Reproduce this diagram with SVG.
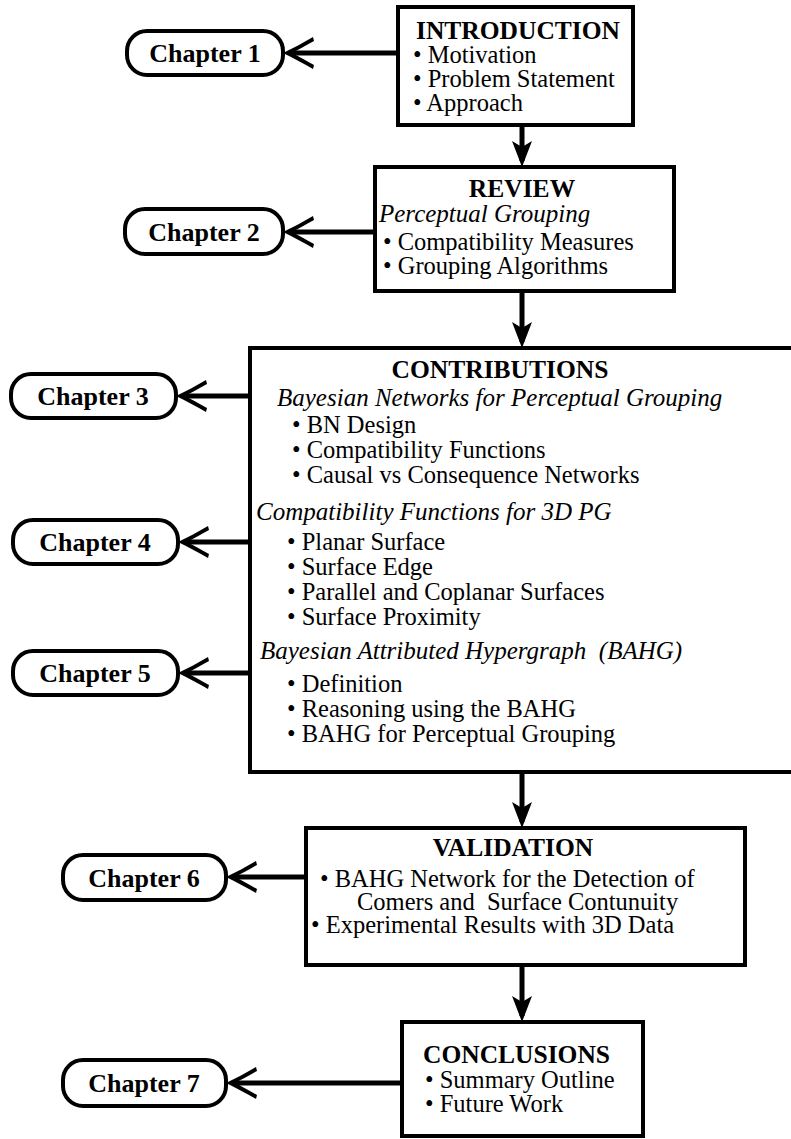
<svg xmlns="http://www.w3.org/2000/svg" width="791" height="1139" viewBox="0 0 791 1139">
<style>
.box{fill:#fff;stroke:#000;stroke-width:4}
.pill{fill:#fff;stroke:#000;stroke-width:4}
.t{font-family:"Liberation Serif","Times New Roman",serif;font-size:24.5px;fill:#000}
.b{font-family:"Liberation Serif","Times New Roman",serif;font-size:25.5px;font-weight:bold;fill:#000}
.i{font-family:"Liberation Serif","Times New Roman",serif;font-size:25px;font-style:italic;fill:#000}
.c{font-family:"Liberation Serif","Times New Roman",serif;font-size:26px;font-weight:bold;fill:#000;text-anchor:middle}
.lk{stroke:#000;stroke-width:5;fill:none}
</style>
<defs>
<marker id="al" markerUnits="userSpaceOnUse" viewBox="-34 -18 44 36" refX="-8" refY="0" markerWidth="44" markerHeight="36" orient="auto" overflow="visible">
<path d="M0,0 C10,-5 20,-10 30,-16 L31,-12 C22,-7 15,-3 9,0 C15,3 22,7 31,12 L30,16 C20,10 10,5 0,0 Z" transform="scale(-1,1)" fill="#000"/>
</marker>
<marker id="ad" markerUnits="userSpaceOnUse" viewBox="-30 -14 40 28" refX="-6" refY="0" markerWidth="40" markerHeight="28" orient="auto" overflow="visible">
<path d="M0,0 L-26,-10 L-20,0 L-26,10 Z" fill="#000"/>
</marker>
</defs>

<g id="connectors">
<line class="lk" x1="398" y1="53" x2="291" y2="53" marker-end="url(#al)"/>
<line class="lk" x1="375" y1="232" x2="291" y2="232" marker-end="url(#al)"/>
<line class="lk" x1="250" y1="396" x2="184" y2="396" marker-end="url(#al)"/>
<line class="lk" x1="250" y1="542" x2="186" y2="542" marker-end="url(#al)"/>
<line class="lk" x1="250" y1="673" x2="186" y2="673" marker-end="url(#al)"/>
<line class="lk" x1="306" y1="877" x2="234" y2="877" marker-end="url(#al)"/>
<line class="lk" x1="402" y1="1083" x2="234" y2="1083" marker-end="url(#al)"/>
<line class="lk" x1="522" y1="125" x2="522" y2="161" marker-end="url(#ad)"/>
<line class="lk" x1="522" y1="291" x2="522" y2="342" marker-end="url(#ad)"/>
<line class="lk" x1="522" y1="772" x2="522" y2="822" marker-end="url(#ad)"/>
<line class="lk" x1="522" y1="965" x2="522" y2="1016" marker-end="url(#ad)"/>
</g>

<g id="intro">
<rect class="box" x="398" y="7" width="235" height="118"/>
<text class="b" x="518" y="39" text-anchor="middle">INTRODUCTION</text>
<text class="t" x="413" y="63">• Motivation</text>
<text class="t" x="413" y="87">• Problem Statement</text>
<text class="t" x="413" y="111">• Approach</text>
</g>

<g id="ch1">
<rect class="pill" x="127" y="31" width="156" height="44" rx="20"/>
<text class="c" x="205" y="62">Chapter 1</text>
</g>

<g id="review">
<rect class="box" x="375" y="167" width="299" height="124"/>
<text class="b" x="522" y="197" text-anchor="middle">REVIEW</text>
<text class="i" x="379" y="222">Perceptual Grouping</text>
<text class="t" x="383" y="250">• Compatibility Measures</text>
<text class="t" x="383" y="274">• Grouping Algorithms</text>
</g>

<g id="ch2">
<rect class="pill" x="125" y="209" width="158" height="45" rx="20"/>
<text class="c" x="204" y="241">Chapter 2</text>
</g>

<g id="contributions">
<rect class="box" x="250" y="348" width="560" height="424"/>
<text class="b" x="500" y="378" text-anchor="middle">CONTRIBUTIONS</text>
<text class="i" x="277" y="406">Bayesian Networks for Perceptual Grouping</text>
<text class="t" x="292" y="433">• BN Design</text>
<text class="t" x="292" y="458">• Compatibility Functions</text>
<text class="t" x="292" y="483">• Causal vs Consequence Networks</text>
<text class="i" x="256" y="520">Compatibility Functions for 3D PG</text>
<text class="t" x="287" y="550">• Planar Surface</text>
<text class="t" x="287" y="575">• Surface Edge</text>
<text class="t" x="287" y="600">• Parallel and Coplanar Surfaces</text>
<text class="t" x="287" y="625">• Surface Proximity</text>
<text class="i" x="260" y="659" xml:space="preserve">Bayesian Attributed Hypergraph  (BAHG)</text>
<text class="t" x="287" y="692">• Definition</text>
<text class="t" x="287" y="717">• Reasoning using the BAHG</text>
<text class="t" x="287" y="742">• BAHG for Perceptual Grouping</text>
</g>

<g id="ch3">
<rect class="pill" x="11" y="374" width="165" height="44" rx="20"/>
<text class="c" x="93" y="405">Chapter 3</text>
</g>
<g id="ch4">
<rect class="pill" x="13" y="520" width="165" height="44" rx="20"/>
<text class="c" x="95" y="551">Chapter 4</text>
</g>
<g id="ch5">
<rect class="pill" x="13" y="651" width="165" height="44" rx="20"/>
<text class="c" x="95" y="682">Chapter 5</text>
</g>

<g id="validation">
<rect class="box" x="306" y="828" width="439" height="137"/>
<text class="b" x="513" y="856" text-anchor="middle">VALIDATION</text>
<text class="t" x="320" y="887">• BAHG Network for the Detection of</text>
<text class="t" x="357" y="910" xml:space="preserve">Comers and  Surface Contunuity</text>
<text class="t" x="311" y="933">• Experimental Results with 3D Data</text>
</g>

<g id="ch6">
<rect class="pill" x="63" y="855" width="163" height="45" rx="20"/>
<text class="c" x="144" y="887">Chapter 6</text>
</g>

<g id="conclusions">
<rect class="box" x="402" y="1022" width="241" height="114"/>
<text class="b" x="423" y="1063">CONCLUSIONS</text>
<text class="t" x="425" y="1088">• Summary Outline</text>
<text class="t" x="425" y="1112">• Future Work</text>
</g>

<g id="ch7">
<rect class="pill" x="63" y="1060" width="163" height="46" rx="20"/>
<text class="c" x="144" y="1092">Chapter 7</text>
</g>
</svg>
